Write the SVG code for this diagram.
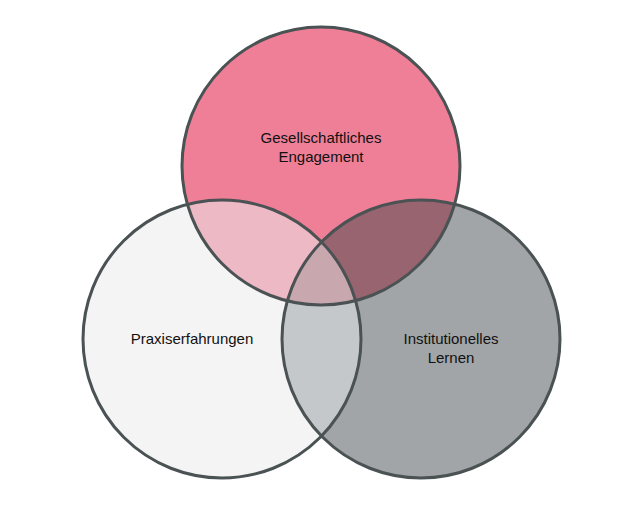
<svg xmlns="http://www.w3.org/2000/svg" width="634" height="531" viewBox="0 0 634 531">
<style>
.o{fill:none;stroke:#4A5253;stroke-width:3}
.t{font-family:"Liberation Sans",Arial,sans-serif;font-size:15px;fill:#111;text-anchor:middle}
</style>
<defs>
<clipPath id="cT"><circle cx="321" cy="166" r="139"/></clipPath>
<clipPath id="cL"><circle cx="222" cy="339" r="139"/></clipPath>
<clipPath id="cR"><circle cx="421" cy="339" r="139"/></clipPath>
</defs>
<rect width="634" height="531" fill="#fff"/>
<g id="fills">
<circle cx="222" cy="339" r="139" fill="#F4F4F4"/>
<circle cx="421" cy="339" r="139" fill="#A2A5A7"/>
<circle cx="321" cy="166" r="139" fill="#EF7F96"/>
<g clip-path="url(#cT)"><circle cx="222" cy="339" r="139" fill="#EDB9C5"/><circle cx="421" cy="339" r="139" fill="#976470"/></g>
<g clip-path="url(#cL)"><circle cx="421" cy="339" r="139" fill="#C5C8CA"/></g>
<g clip-path="url(#cL)"><g clip-path="url(#cR)"><circle cx="321" cy="166" r="139" fill="#C9A7AF"/></g></g>
</g>
<g id="connectors"></g>
<g id="node-top"><circle class="o" cx="321" cy="166" r="139"/><text class="t" x="321" y="143">Gesellschaftliches</text><text class="t" x="321" y="162">Engagement</text></g>
<g id="node-left"><circle class="o" cx="222" cy="339" r="139"/><text class="t" x="192" y="344">Praxiserfahrungen</text></g>
<g id="node-right"><circle class="o" cx="421" cy="339" r="139"/><text class="t" x="451" y="344">Institutionelles</text><text class="t" x="451" y="363">Lernen</text></g>
</svg>
